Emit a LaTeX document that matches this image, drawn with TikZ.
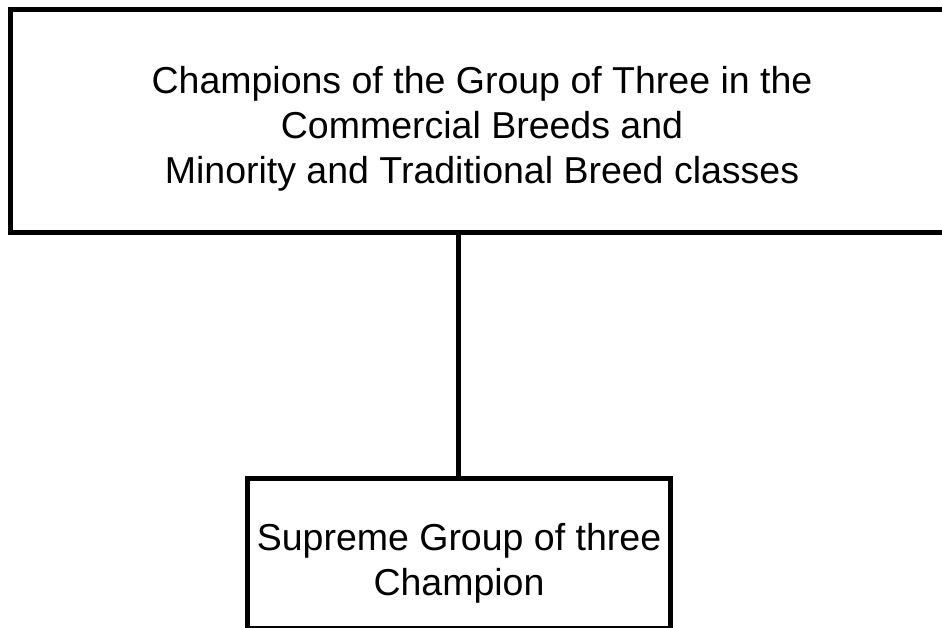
\documentclass[tikz,border=0pt]{standalone}
\usepackage{fontspec}
\setmainfont{Liberation Sans}
\begin{document}
\begin{tikzpicture}[x=1pt,y=-1pt,
  box/.style={draw=black,line width=5pt,rectangle,inner sep=0pt,fill=none},
  label/.style={align=center,font=\fontsize{37.5}{45}\selectfont,inner sep=0pt},
  link/.style={draw=black,line width=5pt}]
\useasboundingbox (0,0) rectangle (942,628);
\clip (0,0) rectangle (942,628);
\fill[white] (0,0) rectangle (942,628);
\node[box,minimum width=942.5pt,minimum height=223.5pt] (top) at (481.75,121.25) {};
\node[box,minimum width=422.5pt,minimum height=150pt] (bot) at (458.75,553) {};
\node[label] (toptext) at (482,128.5) {Champions of the Group of Three in the\\Commercial Breeds and\\Minority and Traditional Breed classes};
\node[label] (bottext) at (459,563) {Supreme Group of three\\Champion};
\draw[link] (bot.north) -- (bot.north |- top.south);
\end{tikzpicture}
\end{document}
